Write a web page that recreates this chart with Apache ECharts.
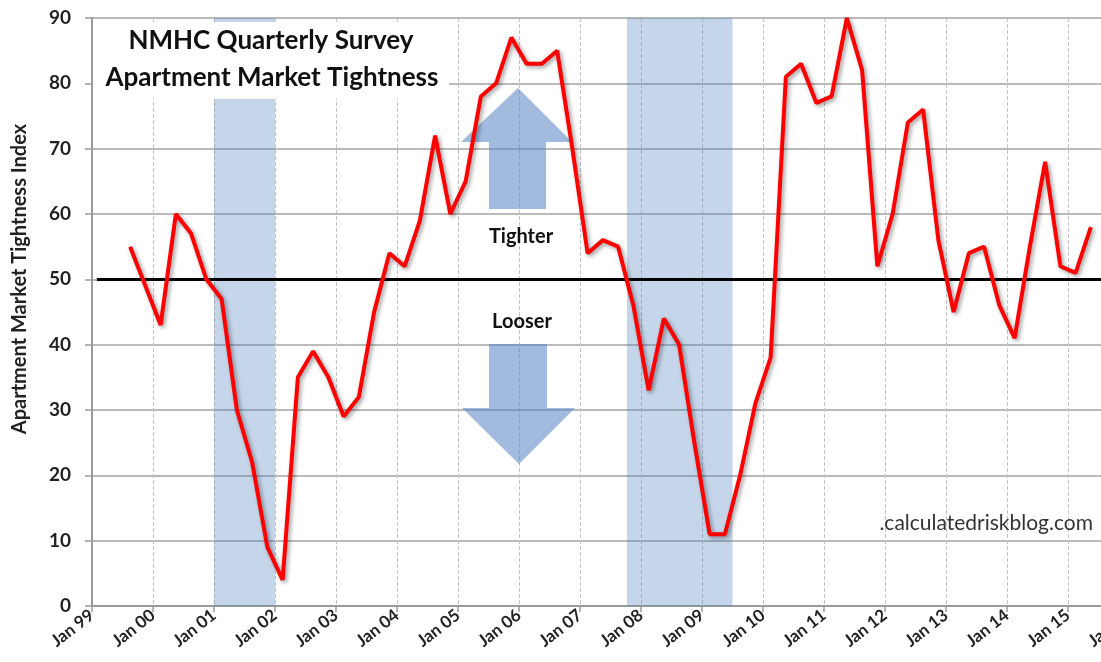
<!DOCTYPE html>
<html>
<head>
<meta charset="utf-8">
<title>NMHC Apartment Market Tightness</title>
<script src="https://cdn.jsdelivr.net/npm/echarts@6/dist/echarts.min.js"></script>
<style>
  html, body { margin: 0; padding: 0; background: #fff; }
  #chart { width: 1101px; height: 662px; }
</style>
</head>
<body>
<div id="chart"></div>
<script>
// survey months (YYYY-MM), one per quarter
const surveyDates = [
  '1999-08', '1999-11',
  '2000-02', '2000-05', '2000-08', '2000-11',
  '2001-02', '2001-05', '2001-08', '2001-11',
  '2002-02', '2002-05', '2002-08', '2002-11',
  '2003-02', '2003-05', '2003-08', '2003-11',
  '2004-02', '2004-05', '2004-08', '2004-11',
  '2005-02', '2005-05', '2005-08', '2005-11',
  '2006-02', '2006-05', '2006-08', '2006-11',
  '2007-02', '2007-05', '2007-08', '2007-11',
  '2008-02', '2008-05', '2008-08', '2008-11',
  '2009-02', '2009-05', '2009-08', '2009-11',
  '2010-02', '2010-05', '2010-08', '2010-11',
  '2011-02', '2011-05', '2011-08', '2011-11',
  '2012-02', '2012-05', '2012-08', '2012-11',
  '2013-02', '2013-05', '2013-08', '2013-11',
  '2014-02', '2014-05', '2014-08', '2014-11',
  '2015-02', '2015-05'
]
const tightness = [
  55, 49,
  43, 60, 57, 50,
  47, 30, 22, 9,
  4, 35, 39, 35,
  29, 32, 45, 54,
  52, 59, 72, 60,
  65, 78, 80, 87,
  83, 83, 85, 70,
  54, 56, 55, 46,
  33, 44, 40, 25,
  11, 11, 20, 31,
  38, 81, 83, 77,
  78, 90, 82, 52,
  60, 74, 76, 56,
  45, 54, 55, 46,
  41, 55, 68, 52,
  51, 58
]
// recessions, decimal years
const recessions = [[2001.0, 2002.0], [2007.77, 2009.5]]
const neutralLevel = 50
const yTicks = { min: 0, max: 90, step: 10 }
const xYears = { min: 1999, max: 2016 }

const font = 'Lato, "Open Sans", sans-serif'

function toYear(s) {
  const [y, m] = s.split('-').map(Number)
  return y + (m - 0.5) / 12
}

const lineData = surveyDates.map((d, i) => [toYear(d), tightness[i]])

const chart = echarts.init(document.getElementById('chart'))
chart.setOption({
  animation: false,
  textStyle: { fontFamily: font },
  grid: {
    left: 92,
    right: -28,
    top: 18,
    bottom: 56,
    containLabel: false,
    outerBoundsMode: 'none'
  },
  xAxis: {
    type: 'value',
    min: xYears.min,
    max: xYears.max,
    interval: 1,
    axisLine: { show: true, lineStyle: { color: '#9a9a9a', width: 2 } },
    axisTick: { show: true, length: 6, lineStyle: { color: '#9a9a9a', width: 1.5 } },
    axisLabel: {
      rotate: 38,
      margin: 7,
      fontSize: 17,
      fontWeight: 'bold',
      color: '#222',
      formatter: v => 'Jan ' + String(v % 100).padStart(2, '0')
    },
    splitLine: { show: true, lineStyle: { color: '#c4c4c4', type: 'dashed', width: 1 } }
  },
  yAxis: {
    type: 'value',
    min: yTicks.min,
    max: yTicks.max,
    interval: yTicks.step,
    axisLine: { show: true, lineStyle: { color: '#9a9a9a', width: 2 } },
    axisTick: { show: true, length: 7, lineStyle: { color: '#9a9a9a', width: 1.5 } },
    axisLabel: { fontSize: 19, fontWeight: 'bold', color: '#222', margin: 21 },
    splitLine: { show: true, lineStyle: { color: '#a3a3a3', width: 1.5 } }
  },
  series: [
    {
      type: 'line',
      data: lineData,
      showSymbol: false,
      z: 5,
      lineStyle: {
        color: '#ff0000',
        width: 4,
        shadowColor: 'rgba(0,0,0,0.4)',
        shadowBlur: 4,
        shadowOffsetX: 2,
        shadowOffsetY: 2
      },
      markArea: {
        silent: true,
        itemStyle: { color: 'rgba(79,129,189,0.32)' },
        data: recessions.map(r => [{ xAxis: r[0] }, { xAxis: r[1] }])
      },
      markLine: {
        silent: true,
        symbol: 'none',
        label: { show: false },
        lineStyle: { color: '#000', width: 3, type: 'solid' },
        data: [[{ coord: [1999.08, neutralLevel] }, { coord: [xYears.max, neutralLevel] }]]
      }
    }
  ],
  graphic: [
    // y axis title
    {
      type: 'text', x: 20, y: 279, rotation: Math.PI / 2,
      style: { text: 'Apartment Market Tightness Index', font: 'bold 20px ' + font, fill: '#222', align: 'center', verticalAlign: 'middle' }
    },
    // title box
    { type: 'rect', z: 50, shape: { x: 93, y: 22, width: 356, height: 77 }, style: { fill: '#fff' } },
    {
      type: 'text', z: 51, x: 271, y: 41,
      style: { text: 'NMHC Quarterly Survey', font: 'bold 26px ' + font, fill: '#111', align: 'center', verticalAlign: 'middle' }
    },
    {
      type: 'text', z: 51, x: 272, y: 78,
      style: { text: 'Apartment Market Tightness', font: 'bold 26px ' + font, fill: '#111', align: 'center', verticalAlign: 'middle' }
    },
    // arrows
    {
      type: 'polygon', z: 1,
      shape: { points: [[518, 88], [572, 142], [546, 142], [546, 209], [489, 209], [489, 142], [461, 142]] },
      style: { fill: 'rgba(84,130,195,0.55)' }
    },
    {
      type: 'polygon', z: 1,
      shape: { points: [[489, 344], [547, 344], [547, 408], [575, 408], [519, 464], [462, 408], [489, 408]] },
      style: { fill: 'rgba(84,130,195,0.55)' }
    },
    {
      type: 'text', z: 6, x: 521, y: 237,
      style: { text: 'Tighter', font: 'bold 20px ' + font, fill: '#111', align: 'center', verticalAlign: 'middle' }
    },
    {
      type: 'text', z: 6, x: 522, y: 322,
      style: { text: 'Looser', font: 'bold 20px ' + font, fill: '#111', align: 'center', verticalAlign: 'middle' }
    },
    {
      type: 'text', z: 6, x: 1093, y: 523,
      style: { text: '.calculatedriskblog.com', font: '21px ' + font, fill: '#333', align: 'right', verticalAlign: 'middle' }
    }
  ]
})
</script>
</body>
</html>
